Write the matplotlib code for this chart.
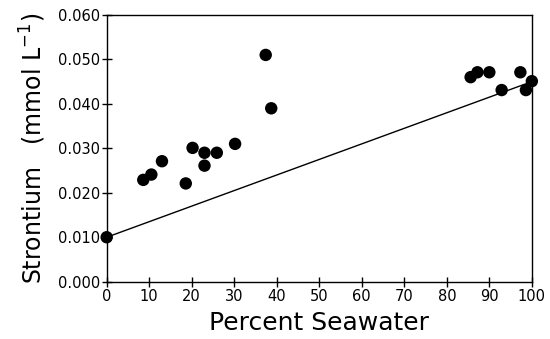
import numpy as np
import matplotlib
matplotlib.use("Agg")
import matplotlib.pyplot as plt

# percent seawater vs strontium (mmol/L)
pct_seawater = [0, 8.6, 10.5, 13.0, 18.6, 20.2, 23.0, 23.0, 25.9, 30.2,
                37.4, 38.7, 85.6, 87.2, 90.0, 92.9, 97.3, 98.6, 100]
strontium = [0.010, 0.0229, 0.0241, 0.0271, 0.0221, 0.0301, 0.0290, 0.0261,
             0.0290, 0.0310, 0.0510, 0.0390, 0.0460, 0.0471, 0.0471, 0.0431,
             0.0471, 0.0431, 0.0451]

# conservative mixing line
mix_x = [0, 100]
mix_y = [0.010, 0.045]

xticks = np.arange(0, 101, 10)
yticks = [0.000, 0.010, 0.020, 0.030, 0.040, 0.050, 0.060]

fig = plt.figure(figsize=(5.5, 3.39), dpi=100)
ax = fig.add_axes([0.194, 0.169, 0.773, 0.787])

ax.plot(mix_x, mix_y, color='black', lw=1.0, zorder=2)
ax.scatter(pct_seawater, strontium, s=80, color='black', zorder=3,
           clip_on=False, edgecolors='none')

ax.set_xlim(0, 100)
ax.set_ylim(0, 0.060)
ax.set_xticks(xticks)
ax.set_yticks(yticks)
ax.set_yticklabels(['%.3f' % v for v in yticks])
ax.tick_params(direction='inout', length=7, width=1, labelsize=10.5,
               top=False, right=False)
ax.tick_params(axis='x', pad=2)
ax.tick_params(axis='y', pad=1)
for sp in ax.spines.values():
    sp.set_linewidth(1.0)

ax.set_xlabel('Percent Seawater', fontsize=18, labelpad=5)
ax.set_ylabel(r'Strontium   (mmol L$^{-1}$)', fontsize=17, labelpad=7)

fig.savefig('out.png', dpi=100)
